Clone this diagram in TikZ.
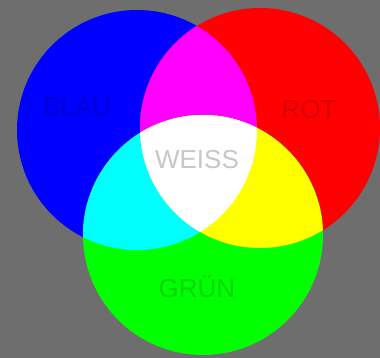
\documentclass[tikz,border=0pt]{standalone}
\usepackage{fontspec}
\setmainfont{Liberation Sans}
\definecolor{bggray}{RGB}{110,110,110}
\definecolor{pblue}{RGB}{0,0,255}
\definecolor{pred}{RGB}{255,0,0}
\definecolor{pgreen}{RGB}{0,255,0}
\definecolor{pmagenta}{RGB}{255,0,255}
\definecolor{pcyan}{RGB}{0,255,255}
\definecolor{pyellow}{RGB}{255,255,0}
\definecolor{pwhite}{RGB}{255,255,255}

\begin{document}
\begin{tikzpicture}[
    x=1pt, y=-1pt,
    label text/.style={
        font=\fontsize{26}{30}\selectfont,
        inner sep=0pt,
        anchor=base
    },
    disc/.style={radius=120}
]

\fill[bggray] (0,0) rectangle (380,358);
\useasboundingbox (0,0) rectangle (380,358);

\coordinate (cblau) at (137,130);
\coordinate (crot) at (260,128);
\coordinate (cgruen) at (203,235);

% primary colours
\fill[pblue] (cblau) circle[disc];
\fill[pred] (crot) circle[disc];
\fill[pgreen] (cgruen) circle[disc];

% overlaps of two
\begin{scope}
  \clip (cblau) circle[disc];
  \fill[pmagenta] (crot) circle[disc];
  \fill[pcyan] (cgruen) circle[disc];
\end{scope}
\begin{scope}
  \clip (crot) circle[disc];
  \fill[pyellow] (cgruen) circle[disc];
\end{scope}

% overlap of all three
\begin{scope}
  \clip (cblau) circle[disc];
  \clip (crot) circle[disc];
  \fill[pwhite] (cgruen) circle[disc];
\end{scope}

% labels, a shade darker than the colour below
\node[label text, text=pblue!82!black] (blau) at (77,116) {BLAU};
\node[label text, text=pred!85!black] (rot) at (309,119) {ROT};
\node[label text, text=pwhite!78!black] (weiss) at (197,169) {WEISS};
\node[label text, text=pgreen!85!black] (gruen) at (197,297) {GRÜN};

\end{tikzpicture}
\end{document}
